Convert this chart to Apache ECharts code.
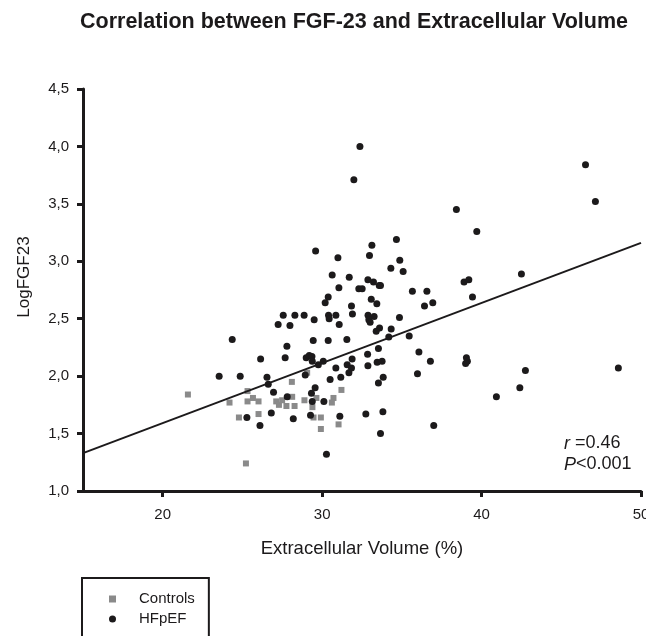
<!DOCTYPE html>
<html>
<head>
<meta charset="utf-8">
<script src="https://cdn.jsdelivr.net/npm/echarts@6/dist/echarts.min.js"></script>
<style>
html,body{margin:0;padding:0;background:#fff;overflow:hidden;}
#chart{width:646px;height:636px;}
</style>
</head>
<body>
<div id="chart"></div>
<script>
// ---- data ----
var hfpefX = [32.37,31.99,46.52,47.14,38.42,39.70,34.66,33.12,32.97,34.87,34.31,35.08,31.70,32.87,33.22,33.58,33.66,32.30,32.51,35.66,36.57,38.90,39.20,42.50,39.43,31.84,33.08,33.43,36.42,36.94,29.59,30.99,30.63,31.05,30.38,30.19,31.90,28.29,28.87,29.50,30.40,30.44,30.86,31.07,32.88,33.26,32.93,33.01,34.85,33.60,33.39,34.33,35.46,29.44,30.38,31.55,27.56,27.24,27.98,24.36,27.79,26.14,27.68,29.00,29.19,29.36,29.38,30.07,29.76,30.86,31.57,31.84,31.68,23.54,24.86,26.54,28.94,30.50,31.17,26.62,26.95,29.56,27.81,29.33,29.38,30.11,26.81,28.19,29.27,31.11,25.28,26.10,30.27,34.18,33.53,36.07,32.85,31.88,36.79,39.05,39.11,39.00,32.87,33.45,33.76,33.83,33.53,35.98,42.75,42.40,40.93,48.58,37.00,32.74,33.81,33.66];
var hfpefY = [4.00,3.71,3.84,3.52,3.45,3.26,3.19,3.14,3.05,3.01,2.94,2.91,2.86,2.84,2.82,2.79,2.79,2.76,2.76,2.74,2.74,2.82,2.84,2.89,2.69,2.61,2.67,2.63,2.61,2.64,3.09,3.03,2.88,2.77,2.69,2.64,2.54,2.53,2.53,2.49,2.53,2.50,2.53,2.45,2.53,2.52,2.49,2.47,2.51,2.42,2.39,2.41,2.35,2.31,2.31,2.32,2.53,2.45,2.44,2.32,2.26,2.15,2.16,2.16,2.18,2.17,2.13,2.13,2.10,2.07,2.10,2.07,2.03,2.00,2.00,1.99,2.01,1.97,1.99,1.93,1.86,1.90,1.82,1.85,1.78,1.78,1.68,1.63,1.66,1.65,1.64,1.57,1.32,2.34,2.24,2.21,2.19,2.15,2.13,2.16,2.13,2.11,2.09,2.12,2.13,1.99,1.94,2.02,2.05,1.90,1.82,2.07,1.57,1.67,1.69,1.50];
var controlX = [21.58,24.19,25.32,25.32,25.66,26.01,24.78,26.01,28.10,27.12,27.29,27.49,27.76,28.12,28.27,28.89,29.06,29.39,29.64,29.46,29.92,29.92,30.71,30.61,31.21,31.03,25.22];
var controlY = [1.84,1.77,1.87,1.78,1.81,1.78,1.64,1.67,1.95,1.78,1.75,1.79,1.74,1.82,1.74,1.79,2.03,1.73,1.81,1.64,1.64,1.54,1.81,1.77,1.88,1.58,1.24];
var fitX = [15, 50];
var fitY = [1.33, 3.16];
var xTicks = [20, 30, 40, 50];
var seriesNames = ['Controls', 'HFpEF'];
var titleText = 'Correlation between FGF-23 and Extracellular Volume';
var xTitle = 'Extracellular Volume (%)';
var yTitle = 'LogFGF23';

function zip(a, b) { return a.map(function (v, i) { return [v, b[i]]; }); }

var ink = '#1c1a1b';
var font = 'Liberation Sans, Arial, sans-serif';
var chart = echarts.init(document.getElementById('chart'), null, {renderer: 'canvas'});
chart.setOption({
  animation: false,
  backgroundColor: '#ffffff',
  textStyle: {fontFamily: font, color: ink},
  title: {
    text: titleText,
    left: 80, top: 11, padding: 0,
    textStyle: {fontSize: 21.5, fontWeight: 'bold', color: ink, fontFamily: font}
  },
  grid: {left: 83, right: 5, top: 89, bottom: 145, containLabel: false, outerBoundsMode: 'none'},
  xAxis: {
    type: 'value', min: 15, max: 50,
    name: xTitle, nameLocation: 'middle', nameGap: 48,
    nameTextStyle: {fontSize: 18.5, color: ink},
    axisLine: {show: true, lineStyle: {color: ink, width: 3}},
    axisTick: {show: true, inside: false, length: 6, customValues: xTicks, lineStyle: {color: ink, width: 3}},
    axisLabel: {customValues: xTicks, fontSize: 15, color: ink, margin: 16},
    splitLine: {show: false}
  },
  yAxis: {
    type: 'value', min: 1, max: 4.5, interval: 0.5,
    name: yTitle, nameLocation: 'middle', nameGap: 50,
    nameTextStyle: {fontSize: 17, color: ink, padding: [0, 0, 0, 26]},
    axisLine: {show: true, lineStyle: {color: ink, width: 3}},
    axisTick: {show: true, inside: false, length: 6, lineStyle: {color: ink, width: 3}},
    axisLabel: {fontSize: 15, color: ink, margin: 14, formatter: function (v) { return v.toFixed(1).replace('.', ','); }},
    splitLine: {show: false}
  },
  legend: {
    data: seriesNames,
    orient: 'vertical',
    left: 82, top: 578, height: 200,
    padding: [11, 14, 40, 27],
    itemWidth: 7, itemHeight: 7, itemGap: 0,
    borderColor: ink, borderWidth: 2, borderRadius: 0,
    textStyle: {fontSize: 15, color: ink, lineHeight: 20, padding: [0, 0, 0, 18]},
    selectedMode: false
  },
  series: [
    {
      name: seriesNames[0], type: 'scatter', symbol: 'rect', symbolSize: 6,
      itemStyle: {color: '#8a8a8a', opacity: 1},
      data: zip(controlX, controlY), z: 2
    },
    {
      name: seriesNames[1], type: 'scatter', symbol: 'circle', symbolSize: 7,
      itemStyle: {color: ink, opacity: 1},
      data: zip(hfpefX, hfpefY), z: 3
    },
    {
      name: 'fit', type: 'line', symbol: 'none', silent: true,
      lineStyle: {color: ink, width: 2},
      data: zip(fitX, fitY), z: 4
    }
  ],
  graphic: [
    {
      type: 'text', left: 564, top: 433,
      style: {
        text: '{i|r} =0.46\n{i|P}<0.001',
        font: '18px Liberation Sans, Arial, sans-serif',
        fill: ink, lineHeight: 21,
        rich: {i: {fontStyle: 'italic', fontSize: 18, fill: ink, fontFamily: font}}
      }
    }
  ]
});
</script>
</body>
</html>
